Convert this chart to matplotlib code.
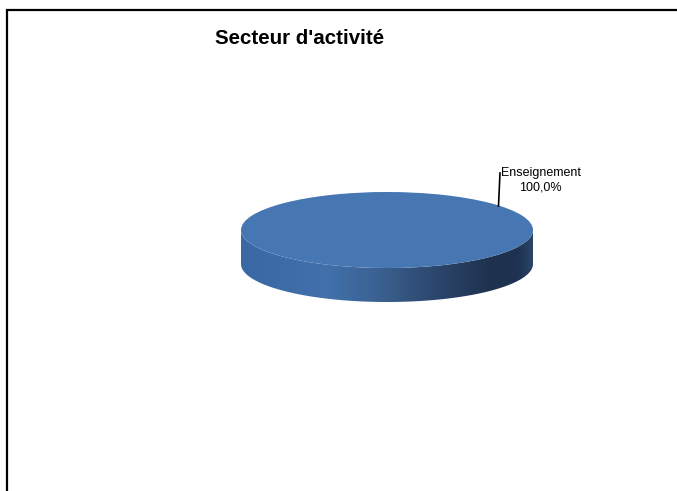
import numpy as np
import matplotlib
matplotlib.use("Agg")
import matplotlib.pyplot as plt
from matplotlib.lines import Line2D
from matplotlib.patches import Polygon
from matplotlib.colors import LinearSegmentedColormap

# ---- data ----
categories = ["Enseignement"]
values = [100.0]
title = "Secteur d'activité"

W, H = 677, 491
fig = plt.figure(figsize=(W / 100, H / 100), dpi=100)
fig.patch.set_facecolor("white")

# pixel geometry of the 3D pie (layout only)
cx, cy = 387.0, 230.0       # centre of top ellipse (px)
ax_px, ay_px = 146.0, 38.0  # semi-axes (px)
depth_px = 34.0

ax = fig.add_axes([0, 0, 1, 1])
top_color = "#4677b2"
wedges, _ = ax.pie(values, radius=1.0, center=(0, 0), colors=[top_color],
                   startangle=90, counterclock=False,
                   wedgeprops=dict(linewidth=0))
ax.set_aspect("auto")
xlim = ((0 - cx) / ax_px, (W - cx) / ax_px)
ylim = ((cy - H) / ay_px, (cy - 0) / ay_px)
ax.set_xlim(*xlim)
ax.set_ylim(*ylim)
ax.axis("off")
for w in wedges:
    w.set_zorder(3)

# side of the cylinder (lower half of ellipse extruded downward)
d = depth_px / ay_px
t = np.linspace(np.pi, 2 * np.pi, 300)
top_edge = np.column_stack([np.cos(t), np.sin(t)])
bot_edge = np.column_stack([np.cos(t[::-1]), np.sin(t[::-1]) - d])
side = Polygon(np.vstack([top_edge, bot_edge]), closed=True,
               facecolor="none", edgecolor="none")
ax.add_patch(side)
cmap = LinearSegmentedColormap.from_list(
    "side",
    [(0.0, "#3a68a4"), (0.3, "#4170ab"), (0.48, "#3a6090"),
     (0.62, "#2f4d75"), (0.75, "#253d5f"), (0.86, "#1e324f"),
     (0.95, "#1e3251"), (1.0, "#2a4466")])
grad = np.linspace(0, 1, 400).reshape(1, -1)
im = ax.imshow(grad, cmap=cmap, aspect="auto",
               extent=(-1, 1, -1 - d, 0.2), zorder=2,
               interpolation="bilinear")
im.set_clip_path(side)
ax.set_xlim(*xlim)
ax.set_ylim(*ylim)

# label
pct = values[0] / sum(values) * 100
label = f"{categories[0]}\n{pct:.1f}%".replace(".", ",")
fig.text(540.5 / W, 1 - 180 / H, label, ha="center", va="center",
         multialignment="center", fontsize=9, family="Liberation Sans",
         linespacing=1.3, color="black")
fig.add_artist(Line2D([500 / W, 498.5 / W], [1 - 173 / H, 1 - 206 / H],
                      transform=fig.transFigure, color="black", lw=1.2))

# title
fig.text(300 / W, 1 - 39 / H, title, ha="center", va="center",
         fontsize=14.8, fontweight="bold", family="Liberation Sans")

# frame (left and top edges visible)
fig.add_artist(Line2D([7 / W, 7 / W, 1.01], [-0.01, 1 - 9.5 / H, 1 - 9.5 / H],
                      transform=fig.transFigure, color="black", lw=1.6,
                      solid_joinstyle="miter"))

fig.savefig("out.png", dpi=100, facecolor="white")
